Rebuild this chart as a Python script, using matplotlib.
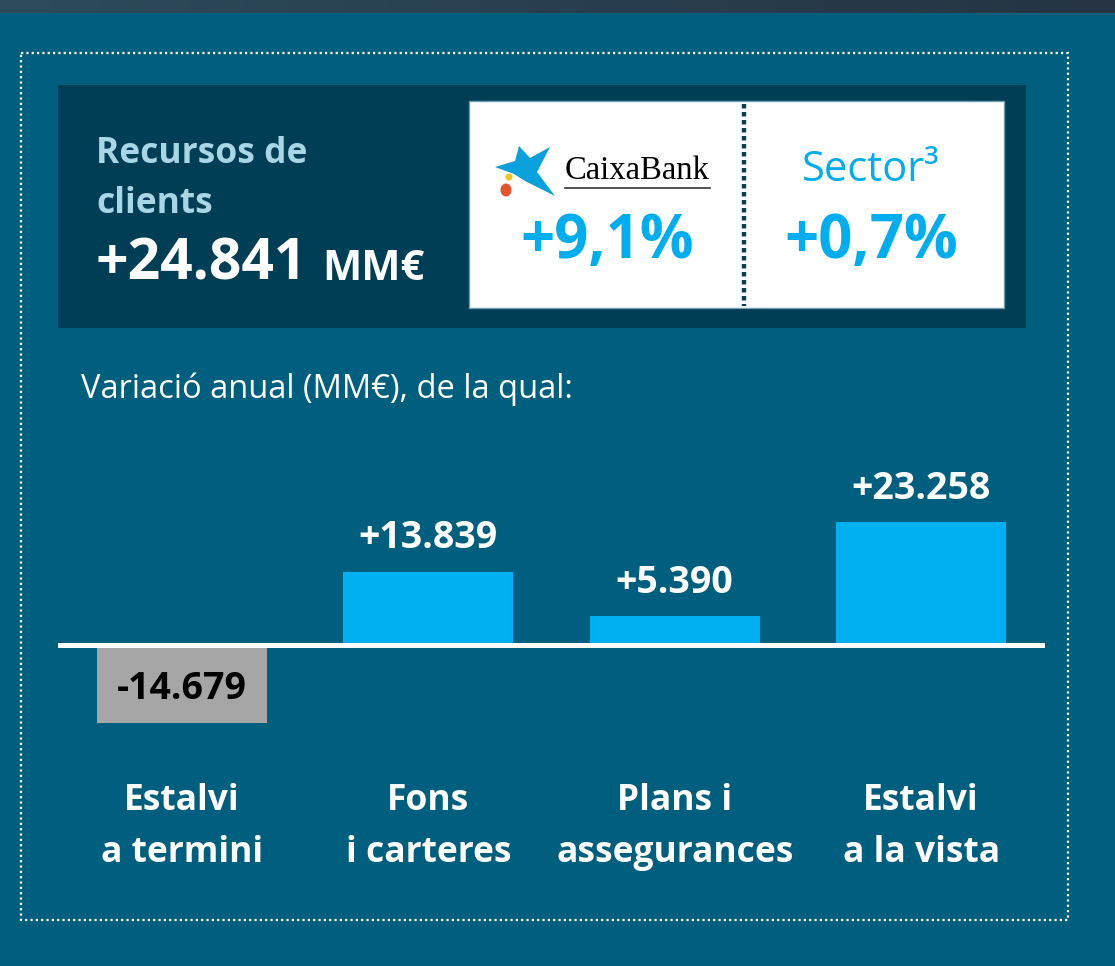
import matplotlib.pyplot as plt
import numpy as np
from matplotlib.patches import Rectangle, Polygon, Ellipse
from matplotlib.colors import LinearSegmentedColormap
import matplotlib.transforms as mtransforms

plt.rcParams['font.family'] = ['Open Sans', 'DejaVu Sans']

categories = ["Estalvi\na termini", "Fons\ni carteres", "Plans i\nassegurances", "Estalvi\na la vista"]
values = [-14679, 13839, 5390, 23258]
value_labels = ["-14.679", "+13.839", "+5.390", "+23.258"]

total_label = "+24.841"
caixa_growth = "+9,1%"
sector_growth = "+0,7%"

BG = "#005e7f"
PANEL = "#003e55"
CYAN = "#00aeef"
BAR = "#00b0f0"
GREY = "#a6a6a6"
LIGHT = "#a9d6e5"

fig = plt.figure(figsize=(11.15, 9.66), dpi=100)
fig.patch.set_facecolor(BG)

# background / decoration layer in pixel coordinates
bg = fig.add_axes([0, 0, 1, 1], zorder=0)
bg.axis('off')

grad = np.linspace(0, 1, 256).reshape(1, -1)
cm = LinearSegmentedColormap.from_list("strip", ["#2c4b5d", "#263443"])
bg.imshow(grad, cmap=cm, extent=(0, 1115, 13, 0), aspect='auto')
bg.set_xlim(0, 1115)
bg.set_ylim(966, 0)

bg.add_patch(Rectangle((21, 53), 1047, 867, fill=False, edgecolor="white",
                       linewidth=1.6, linestyle=(0, (1, 1.4))))

bg.add_patch(Rectangle((58, 85), 968, 243, facecolor=PANEL, edgecolor='none'))
bg.add_patch(Rectangle((469, 101), 535, 207, facecolor="white", edgecolor="#6f9db0", linewidth=1))
bg.plot([744, 744], [104, 306], color="#0c4058", linewidth=3.2, linestyle=(0, (1, 0.8)),
        solid_capstyle='butt')

bg.text(96, 163, "Recursos de", color=LIGHT, fontsize=25.5, fontweight='bold', va='baseline')
bg.text(96, 213, "clients", color=LIGHT, fontsize=25.5, fontweight='bold', va='baseline')
bg.text(95, 280, total_label, color="white", fontsize=41, fontweight='bold', va='baseline')
bg.text(322, 280, "MM€", color="white", fontsize=30, fontweight='bold', va='baseline')

# CaixaBank logo
star = [(495, 167), (515, 161), (519, 146), (530, 158), (550, 147), (537, 172),
        (555, 196), (525, 181), (514, 174)]
bg.add_patch(Polygon(star, closed=True, facecolor="#0aa0db", edgecolor='none'))
bg.add_patch(Ellipse((509, 177), 7, 7, facecolor="#f6c31c", edgecolor='none'))
bg.add_patch(Ellipse((506, 190), 11, 13, facecolor="#e5532c", edgecolor='none'))
bg.text(565, 179, "CaixaBank", color="black", fontsize=23.5, family='Liberation Serif', va='baseline')
bg.plot([565, 710], [188, 188], color="#333333", linewidth=1.2)

bg.text(607, 242, caixa_growth, color=CYAN, fontsize=43, fontweight='bold', ha='center', va='center')
bg.text(871, 170, "Sector³", color=CYAN, fontsize=30, ha='center', va='center')
bg.text(871, 242, sector_growth, color=CYAN, fontsize=43, fontweight='bold', ha='center', va='center')

bg.text(81, 389, "Variació anual (MM€), de la qual:", color="white", fontsize=23.5, va='center')

# bar chart
ax = fig.add_axes([58 / 1115, (966 - 740) / 966, (1045 - 58) / 1115, 300 / 966], zorder=1)
ax.patch.set_alpha(0)
x = np.arange(len(values))
colors = [GREY if v < 0 else BAR for v in values]
ax.bar(x, values, width=0.69, color=colors, zorder=2)
ax.axhline(0, color="white", linewidth=3.6, zorder=3)
ax.set_xlim(-0.503, 3.503)
ax.set_ylim(-17955, 38745)
ax.axis('off')

for i, (v, lab) in enumerate(zip(values, value_labels)):
    if v < 0:
        ax.annotate(lab, (i, v / 2), xytext=(0, -4), textcoords='offset points',
                    ha='center', va='center', fontsize=27, fontweight='bold', color="black")
    else:
        ax.annotate(lab, (i, v), xytext=(0, 24), textcoords='offset points',
                    ha='center', va='center', fontsize=27, fontweight='bold', color="white")

trans = mtransforms.blended_transform_factory(ax.transData, ax.transAxes)
for i, c in enumerate(categories):
    ax.text(i, -0.29, c, transform=trans, ha='center', va='center', fontsize=25.5,
            fontweight='bold', color="white", linespacing=1.59)

fig.savefig("out.png", dpi=100, facecolor=fig.get_facecolor())
